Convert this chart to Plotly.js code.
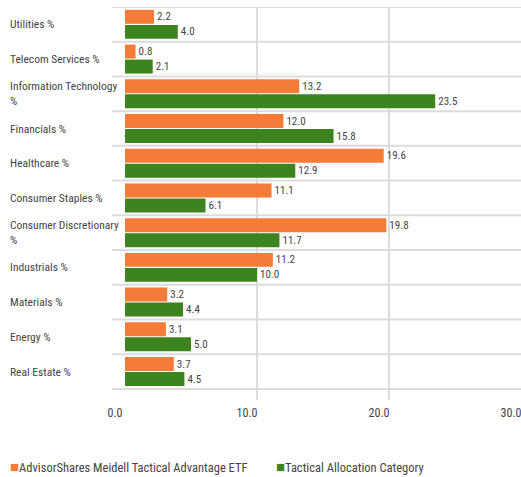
<!DOCTYPE html>
<html>
<head>
<meta charset="utf-8">
<script src="https://cdn.plot.ly/plotly-3.0.1.min.js"></script>
<style>html,body{margin:0;padding:0;background:#fff;}</style>
</head>
<body>
<div id="chart" style="width:521px;height:477px;"></div>
<script>
const categories = ["Utilities %", "Telecom Services %", "Information Technology %", "Financials %", "Healthcare %", "Consumer Staples %", "Consumer Discretionary %", "Industrials %", "Materials %", "Energy %", "Real Estate %"];
const fundName = "AdvisorShares Meidell Tactical Advantage ETF";
const categoryName = "Tactical Allocation Category";
const fundValues = [2.2, 0.8, 13.2, 12.0, 19.6, 11.1, 19.8, 11.2, 3.2, 3.1, 3.7];
const categoryValues = [4.0, 2.1, 23.5, 15.8, 12.9, 6.1, 11.7, 10.0, 4.4, 5.0, 4.5];
const xTicks = [0, 10, 20, 30];
const xTickLabels = ["0.0", "10.0", "20.0", "30.0"];

const FONT = '"Roboto Condensed", Roboto, "Liberation Sans", sans-serif';
const ORANGE = '#F47B38';
const GREEN = '#3E841E';
const W = 521, H = 477, ML = 125, MR = 0, MT = 7, MB = 77;
const PW = W - ML - MR, PH = H - MT - MB;
const px = p => (p - ML) / PW;
const py = p => (H - MB - p) / PH;

function wrap(s) {
  if (s.length > 20) {
    const i = s.lastIndexOf(' ');
    return s.slice(0, i) + '<br>' + s.slice(i + 1);
  }
  return s;
}

const traces = [
  {type: 'bar', orientation: 'h', name: fundName, y: categories, x: fundValues,
   marker: {color: ORANGE}, text: fundValues.map(v => v.toFixed(1)), textposition: 'outside',
   textfont: {family: FONT, size: 11, color: '#444'}, cliponaxis: false, hoverinfo: 'x+name'},
  {type: 'bar', orientation: 'h', name: categoryName, y: categories, x: categoryValues,
   marker: {color: GREEN}, text: categoryValues.map(v => v.toFixed(1)), textposition: 'outside',
   textfont: {family: FONT, size: 11, color: '#444'}, cliponaxis: false, hoverinfo: 'x+name'}
];

const shapes = [];
for (let i = 0; i <= categories.length; i++) {
  shapes.push({type: 'line', layer: 'below', xref: 'paper', yref: 'y',
    x0: px(112), x1: 1, y0: i - 0.5, y1: i - 0.5,
    line: {color: '#dcdcdc', width: 2}});
}

const annotations = categories.map(c => ({
  xref: 'paper', yref: 'y', x: px(8), y: c, xanchor: 'left', yanchor: 'middle',
  align: 'left', text: wrap(c), showarrow: false,
  font: {family: FONT, size: 11.5, color: '#444'}
}));
const legendItems = [[fundName, ORANGE, 8], [categoryName, GREEN, 274]];
legendItems.forEach(([name, color, x]) => {
  annotations.push({xref: 'paper', yref: 'paper', x: px(x), y: py(467), xanchor: 'left', yanchor: 'middle',
    text: '<span style="color:' + color + ';font-size:15px">■</span>' + name, showarrow: false,
    font: {family: FONT, size: 12.5, color: '#444'}});
});

const layout = {
  width: W, height: H,
  margin: {l: ML, r: MR, t: MT, b: MB, pad: 0},
  paper_bgcolor: '#fff', plot_bgcolor: '#fff',
  barmode: 'group', bargap: 0.135, bargroupgap: 0.07,
  showlegend: false,
  xaxis: {range: [0, 30], tickvals: xTicks, ticktext: xTickLabels, showgrid: true,
    gridcolor: '#dcdcdc', gridwidth: 2, zeroline: false, showline: false, ticks: '',
    ticklabelshift: -10, ticklabelstandoff: 4, ticklabeloverflow: 'allow',
    tickfont: {family: FONT, size: 12, color: '#444'}, fixedrange: true},
  yaxis: {type: 'category', range: [categories.length - 0.5 + 0.32, -0.5], showticklabels: false,
    showgrid: false, zeroline: false, showline: false, ticks: '', fixedrange: true},
  shapes: shapes,
  annotations: annotations
};

Plotly.newPlot('chart', traces, layout, {displayModeBar: false, staticPlot: true});
</script>
</body>
</html>
